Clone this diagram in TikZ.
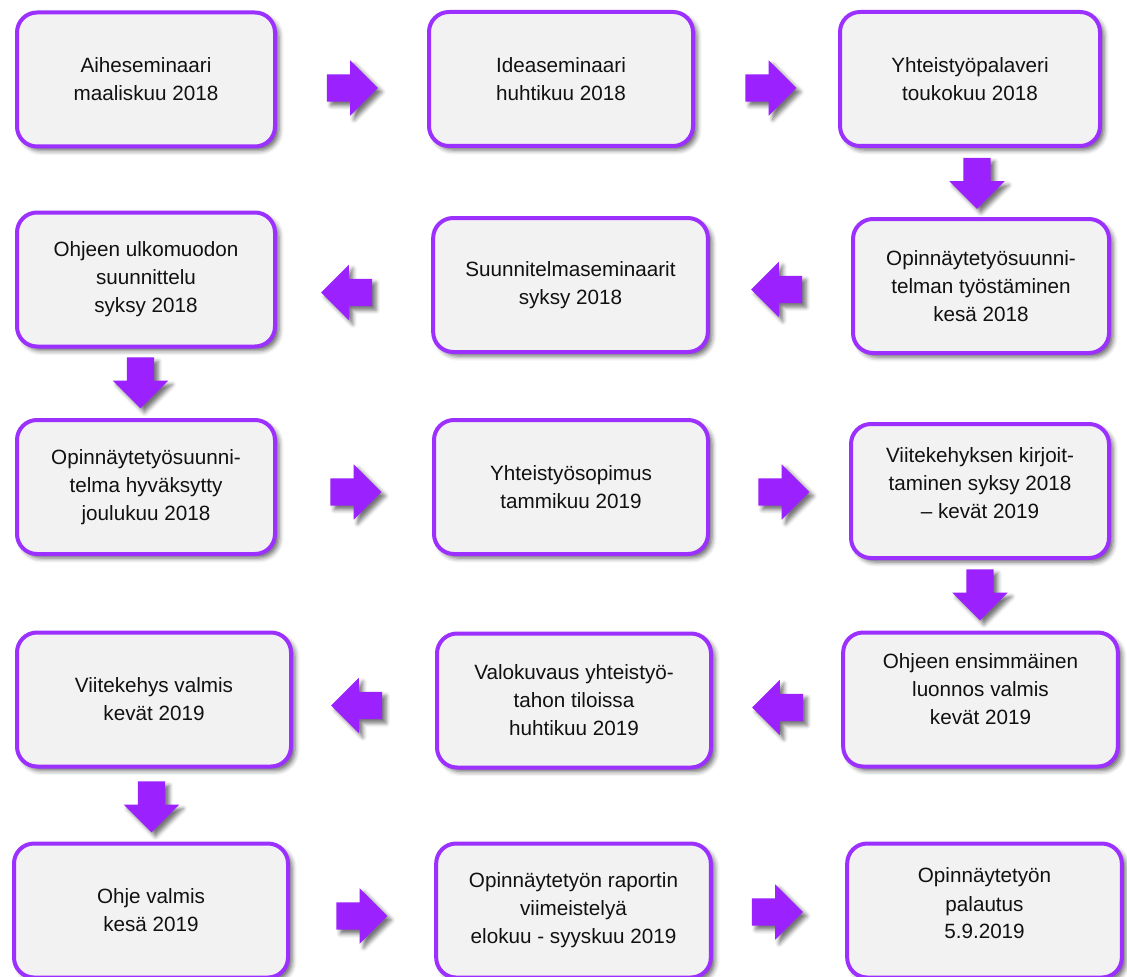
\documentclass[tikz,border=0pt]{standalone}
\usepackage{fontspec}
\setmainfont{Liberation Sans}
\usepackage{xcolor}
\usepackage{tikz}
\usetikzlibrary{shadows.blur,shapes.arrows}
\definecolor{stageline}{HTML}{9B30FF}
\definecolor{stagefill}{HTML}{F2F2F2}
\definecolor{arrowfill}{HTML}{9B22FF}
\definecolor{darktext}{HTML}{111111}

\begin{document}
\begin{tikzpicture}[
    x=0.75pt, y=-0.75pt,
    stagebox/.style={
      draw=stageline, fill=stagefill,
      line width=3pt, rounded corners=15pt,
      minimum height=100.5pt, inner sep=0pt,
      align=center, text=darktext,
      font=\fontsize{15.5}{21}\selectfont,
      blur shadow={shadow xshift=3pt, shadow yshift=-3pt,
        shadow blur radius=3.5pt, shadow opacity=60}
    },
    flowarrow/.style={
      single arrow, fill=arrowfill, draw=none,
      minimum height=38.25pt, inner sep=10.1pt,
      single arrow head extend=10.5pt,
      blur shadow={shadow xshift=3pt, shadow yshift=-3pt,
        shadow blur radius=3pt, shadow opacity=55}
    },
    toright/.style={flowarrow, shape border rotate=0},
    toleft/.style={flowarrow, shape border rotate=180},
    todown/.style={flowarrow, shape border rotate=270}
  ]
  \useasboundingbox (0,0) rectangle (1127,977);

  % row 1
  \node[stagebox, minimum width=193.5pt] (aihe) at (146,79.5)
    {Aiheseminaari\\maaliskuu 2018};
  \node[stagebox, minimum width=198pt] (idea) at (561,79)
    {Ideaseminaari\\huhtikuu 2018};
  \node[stagebox, minimum width=195pt] (palaveri) at (970,79)
    {Yhteistyöpalaveri\\toukokuu 2018};

  % row 2
  \node[stagebox, minimum width=193.5pt] (ulkomuoto) at (146,279.5)
    {Ohjeen ulkomuodon\\suunnittelu\\syksy 2018};
  \node[stagebox, minimum width=206pt] (suunsem) at (570.5,285)
    {Suunnitelmaseminaarit\\syksy 2018};
  \node[stagebox, minimum width=192pt] (tyostaminen) at (981,286)
    {Opinnäytetyösuunni-\\telman työstäminen\\kesä 2018};

  % row 3
  \node[stagebox, minimum width=193.5pt] (hyvaksytty) at (146,487)
    {Opinnäytetyösuunni-\\telma hyväksytty\\joulukuu 2018};
  \node[stagebox, minimum width=205.5pt] (sopimus) at (571,487)
    {Yhteistyösopimus\\tammikuu 2019};
  \node[stagebox, minimum width=193.5pt] (viitekirj) at (980,491)
    {Viitekehyksen kirjoit-\\taminen syksy 2018\\– kevät 2019\\[-9pt]\mbox{}};

  % row 4
  \node[stagebox, minimum width=205.5pt] (viitevalmis) at (154,699.5)
    {Viitekehys valmis\\kevät 2019};
  \node[stagebox, minimum width=205.5pt] (valokuvaus) at (574,700.5)
    {Valokuvaus yhteistyö-\\tahon tiloissa\\huhtikuu 2019};
  \node[stagebox, minimum width=206pt] (luonnos) at (980.5,699.5)
    {Ohjeen ensimmäinen\\luonnos valmis\\kevät 2019\\[-6pt]\mbox{}};

  % row 5
  \node[stagebox, minimum width=205.5pt] (ohjevalmis) at (151,910.5)
    {Ohje valmis\\kesä 2019};
  \node[stagebox, minimum width=206pt] (raportti) at (573.5,910.5)
    {Opinnäytetyön raportin\\viimeistelyä\\elokuu - syyskuu 2019};
  \node[stagebox, minimum width=206pt] (palautus) at (984.5,910.5)
    {Opinnäytetyön\\palautus\\5.9.2019\\[-10.5pt]\mbox{}};

  % block arrows between the stages
  \node[toright] (a1) at (345.5,88) {};
  \node[toright] (a2) at (764,88) {};
  \node[todown] (a3) at (977,176.5) {};
  \node[toleft] (a4) at (783.5,289.5) {};
  \node[toleft] (a5) at (353.5,292.5) {};
  \node[todown] (a6) at (140.5,376) {};
  \node[toright] (a7) at (349,492) {};
  \node[toright] (a8) at (777,492) {};
  \node[todown] (a9) at (980,588) {};
  \node[toleft] (a10) at (784.5,707.5) {};
  \node[toleft] (a11) at (363.5,705.5) {};
  \node[todown] (a12) at (151.5,800) {};
  \node[toright] (a13) at (355,916) {};
  \node[toright] (a14) at (770.5,912) {};
\end{tikzpicture}
\end{document}
